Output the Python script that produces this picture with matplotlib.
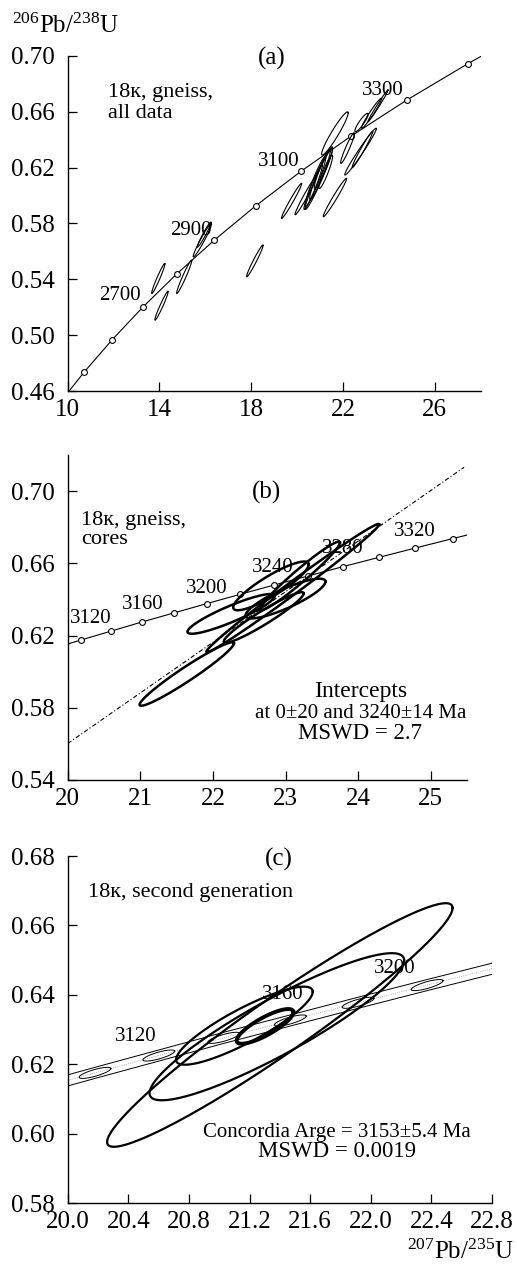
import numpy as np
import matplotlib
matplotlib.use('Agg')
import matplotlib.pyplot as plt
from matplotlib.ticker import FormatStrFormatter

plt.rcParams['font.family'] = ['Liberation Serif', 'DejaVu Serif']
plt.rcParams['mathtext.fontset'] = 'custom'
plt.rcParams['mathtext.rm'] = 'Liberation Serif'
plt.rcParams['mathtext.it'] = 'Liberation Serif:italic'

# ---------------- data ----------------
# Concordia (207Pb/235U, 206Pb/238U) at 100 Ma steps
conc100_age = [2400, 2500, 2600, 2700, 2800, 2900, 3000, 3100, 3200, 3300, 3400, 3420]
conc100_x = [9.630, 10.730, 11.944, 13.283, 14.762, 16.393, 18.193, 20.180, 22.372, 24.790, 27.460, 28.026]
conc100_y = [0.4511, 0.4738, 0.4968, 0.5202, 0.5440, 0.5681, 0.5926, 0.6175, 0.6428, 0.6685, 0.6946, 0.6998]

# Concordia at 20 Ma steps
conc20_age = [3080, 3100, 3120, 3140, 3160, 3180, 3200, 3220, 3240, 3260, 3280, 3300, 3320, 3340]
conc20_x = [19.766, 20.180, 20.601, 21.030, 21.469, 21.916, 22.372, 22.836, 23.311, 23.794, 24.287, 24.790, 25.303, 25.827]
conc20_y = [0.6125, 0.6175, 0.6225, 0.6276, 0.6326, 0.6377, 0.6428, 0.6479, 0.6530, 0.6582, 0.6633, 0.6685, 0.6737, 0.6789]

# Panel (a): all data ellipses (centre x, centre y, half-range x, half-range y, rho)
a_cx = [13.95, 14.09, 15.08, 15.87, 15.95, 18.16, 19.76, 20.38, 21.65, 21.65,
        20.80, 21.00, 20.70, 21.15, 20.95, 21.25,
        22.20, 22.77, 22.85, 22.81, 23.25, 23.53]
a_cy = [0.5406, 0.5211, 0.5418, 0.5680, 0.5720, 0.5532, 0.5962, 0.6000, 0.5986, 0.6445,
        0.6100, 0.6150, 0.6060, 0.6200, 0.6120, 0.6170,
        0.6340, 0.6315, 0.6330, 0.6523, 0.6590, 0.6643]
a_sx = [0.29, 0.29, 0.33, 0.40, 0.30, 0.36, 0.44, 0.47, 0.51, 0.58,
        0.45, 0.45, 0.40, 0.40, 0.60, 0.30,
        0.30, 0.69, 0.45, 0.29, 0.44, 0.44]
a_sy = [0.0108, 0.0104, 0.0120, 0.0120, 0.0090, 0.0114, 0.0126, 0.0138, 0.0138, 0.0155,
        0.0180, 0.0180, 0.0160, 0.0150, 0.0220, 0.0120,
        0.0110, 0.0168, 0.0130, 0.0066, 0.0108, 0.0114]
a_rho = [0.97, 0.97, 0.97, 0.97, 0.97, 0.975, 0.98, 0.98, 0.98, 0.95,
         0.95, 0.95, 0.96, 0.94, 0.97, 0.92,
         0.95, 0.982, 0.98, 0.90, 0.97, 0.99]
a_labels = ['2700', '2900', '3100', '3300']

# Panel (b): cores
b_cx = [21.64, 23.10, 22.25, 22.80, 23.00, 23.20, 22.70]
b_cy = [0.5987, 0.6463, 0.6320, 0.6475, 0.6405, 0.6530, 0.6300]
b_sx = [0.65, 1.19, 0.60, 0.52, 0.55, 0.55, 0.55]
b_sy = [0.0176, 0.0355, 0.0110, 0.0135, 0.0110, 0.0190, 0.0140]
b_rho = [0.965, 0.993, 0.90, 0.88, 0.85, 0.97, 0.95]
b_labels = ['3120', '3160', '3200', '3240', '3280', '3320']
disc_x = [20.0, 25.46]
disc_y = [0.5602, 0.7132]

# Panel (c): second generation
c_cx = [21.40, 21.38, 21.166, 21.302]
c_cy = [0.6313, 0.6308, 0.6311, 0.6309]
c_sx = [1.14, 0.84, 0.451, 0.187]
c_sy = [0.0351, 0.0212, 0.01125, 0.0050]
c_rho = [0.9606, 0.903, 0.87, 0.82]
c_band_half = 0.0016
c_mark_sx = 0.105
c_mark_sy = 0.0016
c_mark_rho = 0.78
c_labels = ['3120', '3160', '3200']


def ellipse(ax, cx, cy, sx, sy, rho, **kw):
    t = np.linspace(0, 2 * np.pi, 300)
    x = cx + sx * np.cos(t)
    y = cy + sy * (rho * np.cos(t) + np.sqrt(1 - rho ** 2) * np.sin(t))
    ax.plot(x, y, color='black', **kw)


def style(ax):
    for s in ['top', 'right']:
        ax.spines[s].set_visible(False)
    for s in ['left', 'bottom']:
        ax.spines[s].set_linewidth(1.0)
    ax.tick_params(direction='in', length=6.5, width=0.9, labelsize=18)
    ax.tick_params(axis='y', pad=9)
    ax.tick_params(axis='x', pad=6)


fig = plt.figure(figsize=(5.17, 12.66), dpi=100)
axa = fig.add_axes([0.13095, 0.69115, 0.79852, 0.26462])
axb = fig.add_axes([0.13095, 0.38389, 0.77234, 0.25671])
axc = fig.add_axes([0.13095, 0.04976, 0.82069, 0.27409])

# ---------------- panel (a) ----------------
axa.plot(conc100_x, conc100_y, color='black', lw=0.8)
axa.plot(conc100_x[1:11], conc100_y[1:11], 'o', ms=4.2, mfc='white', mec='black', mew=0.8)
for i in range(len(a_cx)):
    ellipse(axa, a_cx[i], a_cy[i], a_sx[i], a_sy[i], a_rho[i], lw=0.8)
axa.set_xlim(10, 28)
axa.set_ylim(0.46, 0.70)
axa.set_xticks([10, 14, 18, 22, 26])
axa.set_yticks([0.46, 0.50, 0.54, 0.58, 0.62, 0.66, 0.70])
axa.yaxis.set_major_formatter(FormatStrFormatter('%.2f'))
style(axa)
axa.text(18.9, 0.698, '(a)', fontsize=18, ha='center', va='center')
axa.text(11.76, 0.6740, '18к, gneiss,', fontsize=16, ha='left', va='center')
axa.text(11.76, 0.6589, 'all data', fontsize=16, ha='left', va='center')
for lab, (lx, ly) in zip(a_labels, [(12.28, 0.5286), (15.36, 0.5752), (19.19, 0.6247), (23.73, 0.6756)]):
    axa.text(lx, ly, lab, fontsize=15, ha='center', va='center')

# ---------------- panel (b) ----------------
axb.plot(disc_x, disc_y, color='black', lw=0.8, dashes=(4, 2, 1, 2))
axb.plot(conc20_x, conc20_y, color='black', lw=0.8)
axb.plot(conc20_x[1:13], conc20_y[1:13], 'o', ms=4.2, mfc='white', mec='black', mew=0.8)
for i in range(len(b_cx)):
    ellipse(axb, b_cx[i], b_cy[i], b_sx[i], b_sy[i], b_rho[i], lw=1.8)
axb.set_xlim(20, 25.5)
axb.set_ylim(0.54, 0.72)
axb.set_xticks([20, 21, 22, 23, 24, 25])
axb.set_yticks([0.54, 0.58, 0.62, 0.66, 0.70])
axb.yaxis.set_major_formatter(FormatStrFormatter('%.2f'))
style(axb)
axb.text(22.745, 0.6993, '(b)', fontsize=18, ha='center', va='center')
axb.text(20.18, 0.6839, '18к, gneiss,', fontsize=16, ha='left', va='center')
axb.text(20.18, 0.6732, 'cores', fontsize=16, ha='left', va='center')
for lab, (lx, ly) in zip(b_labels, [(20.32, 0.6297), (21.03, 0.6371), (21.91, 0.6458),
                                    (22.83, 0.6578), (23.79, 0.6680), (24.78, 0.6775)]):
    axb.text(lx, ly, lab, fontsize=15, ha='center', va='center')
axb.text(24.03, 0.5890, 'Intercepts', fontsize=17, ha='center', va='center')
axb.text(24.03, 0.5767, 'at 0±20 and 3240±14 Ma', fontsize=15, ha='center', va='center')
axb.text(24.03, 0.5660, 'MSWD = 2.7', fontsize=16.5, ha='center', va='center')

# ---------------- panel (c) ----------------
cx_arr = np.array(conc20_x)
cy_arr = np.array(conc20_y)
axc.plot(cx_arr, cy_arr + c_band_half, color='black', lw=0.7)
axc.plot(cx_arr, cy_arr - c_band_half, color='black', lw=0.7)
axc.plot(cx_arr, cy_arr, color='0.6', lw=0.6, ls=':')
for i in range(1, 7):
    ellipse(axc, conc20_x[i], conc20_y[i], c_mark_sx, c_mark_sy, c_mark_rho, lw=0.7)
for i in range(len(c_cx)):
    ellipse(axc, c_cx[i], c_cy[i], c_sx[i], c_sy[i], c_rho[i],
            lw=(2.8 if i == 3 else 1.6))
axc.set_xlim(20.0, 22.8)
axc.set_ylim(0.58, 0.68)
axc.set_xticks([20.0, 20.4, 20.8, 21.2, 21.6, 22.0, 22.4, 22.8])
axc.set_yticks([0.58, 0.60, 0.62, 0.64, 0.66, 0.68])
axc.xaxis.set_major_formatter(FormatStrFormatter('%.1f'))
axc.yaxis.set_major_formatter(FormatStrFormatter('%.2f'))
style(axc)
axc.text(21.39, 0.679, '(c)', fontsize=18, ha='center', va='center')
axc.text(20.136, 0.6694, '18к, second generation', fontsize=16, ha='left', va='center')
for lab, (lx, ly) in zip(c_labels, [(20.45, 0.6279), (21.418, 0.6400), (22.155, 0.6475)]):
    axc.text(lx, ly, lab, fontsize=15, ha='center', va='center')
axc.text(21.776, 0.6003, 'Concordia Arge = 3153±5.4 Ma', fontsize=15, ha='center', va='center')
axc.text(21.776, 0.5949, 'MSWD = 0.0019', fontsize=16.5, ha='center', va='center')

# axis titles
fig.text(12 / 517, 1 - 26 / 1266, r'$^{206}$Pb/$^{238}$U', fontsize=18, ha='left', va='center')
fig.text(514 / 517, 1 - 1252 / 1266, r'$^{207}$Pb/$^{235}$U', fontsize=18, ha='right', va='center')

fig.savefig('out.png', dpi=100)
